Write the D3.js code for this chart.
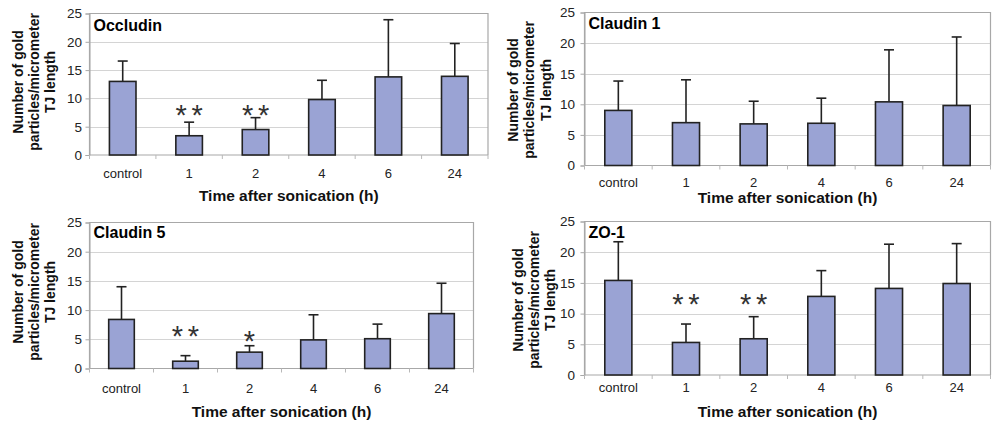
<!DOCTYPE html>
<html>
<head>
<meta charset="utf-8">
<script src="https://cdn.jsdelivr.net/npm/d3@7"></script>
<style>
  html, body { margin: 0; padding: 0; background: #fff; }
  svg { display: block; }
  text { font-family: "Liberation Sans", Arial, sans-serif; }
</style>
</head>
<body>
<svg id="chart" width="992" height="424"></svg>
<script>
// ---------- DATA ----------
const categories = ["control", "1", "2", "4", "6", "24"];
const yTicks = [0, 5, 10, 15, 20, 25];

const occludinMean = [13.0, 3.4, 4.5, 9.8, 13.8, 13.9];
const occludinSD   = [3.6, 2.4, 2.1, 3.4, 10.1, 5.8];
const occludinStars = ["", "**", "**", "", "", ""];
const occludinStarLevel = [null, 7.6, 7.6, null, null, null];

const claudin1Mean = [9.0, 7.0, 6.8, 6.9, 10.4, 9.8];
const claudin1SD   = [4.8, 7.0, 3.7, 4.1, 8.5, 11.2];
const claudin1Stars = ["", "", "", "", "", ""];
const claudin1StarLevel = [null, null, null, null, null, null];

const claudin5Mean = [8.4, 1.25, 2.8, 4.9, 5.1, 9.4];
const claudin5SD   = [5.6, 0.95, 1.1, 4.3, 2.5, 5.2];
const claudin5Stars = ["", "**", "*", "", "", ""];
const claudin5StarLevel = [null, 6.0, 5.2, null, null, null];

const zo1Mean = [15.4, 5.3, 5.9, 12.8, 14.1, 14.9];
const zo1SD   = [6.3, 3.0, 3.6, 4.2, 7.2, 6.5];
const zo1Stars = ["", "**", "**", "", "", ""];
const zo1StarLevel = [null, 12.0, 12.0, null, null, null];

const yTitleLines = ["Number of gold", "particles/micrometer", "TJ length"];
const xTitle = "Time after sonication (h)";

// ---------- LAYOUT ----------
const panels = [
  { name: "Occludin", mean: occludinMean, sd: occludinSD, stars: occludinStars, starLevel: occludinStarLevel,
    left: 89.5, right: 488, top: 13.5, bottom: 155, tickRight: 82, xLabelY: 173, xTitleY: 195,
    yTitleX: [18, 34, 50], yTitleY: 82, titleY: 25 },
  { name: "Claudin 1", mean: claudin1Mean, sd: claudin1SD, stars: claudin1Stars, starLevel: claudin1StarLevel,
    left: 584.5, right: 990.5, top: 12.5, bottom: 165.5, tickRight: 575, xLabelY: 182, xTitleY: 197,
    yTitleX: [513, 529, 546], yTitleY: 90, titleY: 23 },
  { name: "Claudin 5", mean: claudin5Mean, sd: claudin5SD, stars: claudin5Stars, starLevel: claudin5StarLevel,
    left: 89.5, right: 473.5, top: 222.5, bottom: 368.5, tickRight: 82, xLabelY: 388, xTitleY: 411,
    yTitleX: [18, 34, 50], yTitleY: 292, titleY: 232.5 },
  { name: "ZO-1", mean: zo1Mean, sd: zo1SD, stars: zo1Stars, starLevel: zo1StarLevel,
    left: 584.5, right: 990.5, top: 221.5, bottom: 375, tickRight: 575, xLabelY: 387, xTitleY: 411,
    yTitleX: [518, 534, 550], yTitleY: 300, titleY: 232 }
];

const svg = d3.select("#chart");

panels.forEach(p => {
  const g = svg.append("g");
  const x = d3.scaleBand().domain(categories).range([p.left, p.right]).paddingInner(0).paddingOuter(0);
  const y = d3.scaleLinear().domain([0, 25]).range([p.bottom, p.top]);
  const barW = x.bandwidth() * 0.4;

  // gridlines
  g.selectAll(".grid").data(yTicks.filter(t => t > 0 && t < 25)).enter().append("line")
    .attr("x1", p.left).attr("x2", p.right)
    .attr("y1", d => Math.round(y(d)) + 0.5).attr("y2", d => Math.round(y(d)) + 0.5)
    .attr("stroke", "#d4d4d4").attr("stroke-width", 1);

  // frame (top/right/left)
  g.append("path")
    .attr("d", `M${p.left},${p.bottom}V${p.top}H${p.right}V${p.bottom}`)
    .attr("fill", "none").attr("stroke", "#a8a8a8").attr("stroke-width", 1.2);

  // y axis
  const yAxis = d3.axisLeft(y).tickValues(yTicks).tickSize(4).tickPadding(4);
  const ya = g.append("g").attr("transform", `translate(${p.left},0)`).call(yAxis);
  ya.select(".domain").attr("stroke", "#a8a8a8");
  ya.selectAll(".tick line").attr("stroke", "#a8a8a8");
  ya.selectAll(".tick text").attr("font-size", 13.5).attr("fill", "#222")
    .attr("font-family", "'Liberation Sans', Arial, sans-serif")
    .attr("x", -(p.left - p.tickRight));

  // x axis line + boundary ticks
  g.append("line").attr("x1", p.left).attr("x2", p.right)
    .attr("y1", p.bottom).attr("y2", p.bottom).attr("stroke", "#a8a8a8").attr("stroke-width", 1.2);
  const bounds = categories.map(c => x(c)).concat([p.right]);
  g.selectAll(".bt").data(bounds).enter().append("line")
    .attr("x1", d => d).attr("x2", d => d)
    .attr("y1", p.bottom).attr("y2", p.bottom + 4)
    .attr("stroke", "#b8b8b8").attr("stroke-width", 1);

  // x labels
  g.selectAll(".xl").data(categories).enter().append("text")
    .attr("x", d => x(d) + x.bandwidth() / 2).attr("y", p.xLabelY)
    .attr("text-anchor", "middle").attr("dominant-baseline", "central")
    .attr("font-size", 13).attr("fill", "#222").text(d => d);

  // error bars (upper only)
  const rows = categories.map((c, i) => ({ c, m: p.mean[i], s: p.sd[i], star: p.stars[i], lvl: p.starLevel[i] }));
  rows.forEach(r => {
    const cx = x(r.c) + x.bandwidth() / 2;
    g.append("line").attr("x1", cx).attr("x2", cx)
      .attr("y1", y(r.m)).attr("y2", y(r.m + r.s))
      .attr("stroke", "#222").attr("stroke-width", 1.6);
    g.append("line").attr("x1", cx - 5).attr("x2", cx + 5)
      .attr("y1", y(r.m + r.s)).attr("y2", y(r.m + r.s))
      .attr("stroke", "#222").attr("stroke-width", 1.6);
  });

  // bars
  g.selectAll(".bar").data(rows).enter().append("rect")
    .attr("x", d => x(d.c) + x.bandwidth() / 2 - barW / 2)
    .attr("width", barW)
    .attr("y", d => y(d.m))
    .attr("height", d => y(0) - y(d.m))
    .attr("fill", "#9aa3d4").attr("stroke", "#222").attr("stroke-width", 1.6);

  // significance stars (each asterisk drawn separately)
  rows.filter(r => r.star).forEach(r => {
    const cx = x(r.c) + x.bandwidth() / 2;
    const n = r.star.length;
    for (let k = 0; k < n; k++) {
      const off = (k - (n - 1) / 2) * 16;
      g.append("text")
        .attr("x", cx + off).attr("y", y(r.lvl) + 13)
        .attr("text-anchor", "middle").attr("font-size", 29).attr("fill", "#333")
        .text("*");
    }
  });

  // panel title
  g.append("text").attr("x", p.left + 4).attr("y", p.titleY)
    .attr("dominant-baseline", "central")
    .attr("font-size", 16).attr("font-weight", "bold").attr("fill", "#000").text(p.name);

  // x title
  g.append("text").attr("x", (p.left + p.right) / 2).attr("y", p.xTitleY)
    .attr("text-anchor", "middle").attr("dominant-baseline", "central")
    .attr("font-size", 15.5).attr("font-weight", "bold").attr("fill", "#111").text(xTitle);

  // y title (3 lines rotated)
  yTitleLines.forEach((line, i) => {
    g.append("text")
      .attr("transform", `translate(${p.yTitleX[i]},${p.yTitleY}) rotate(-90)`)
      .attr("text-anchor", "middle").attr("dominant-baseline", "central")
      .attr("font-size", 14).attr("font-weight", "bold").attr("fill", "#111").text(line);
  });
});
</script>
</body>
</html>
